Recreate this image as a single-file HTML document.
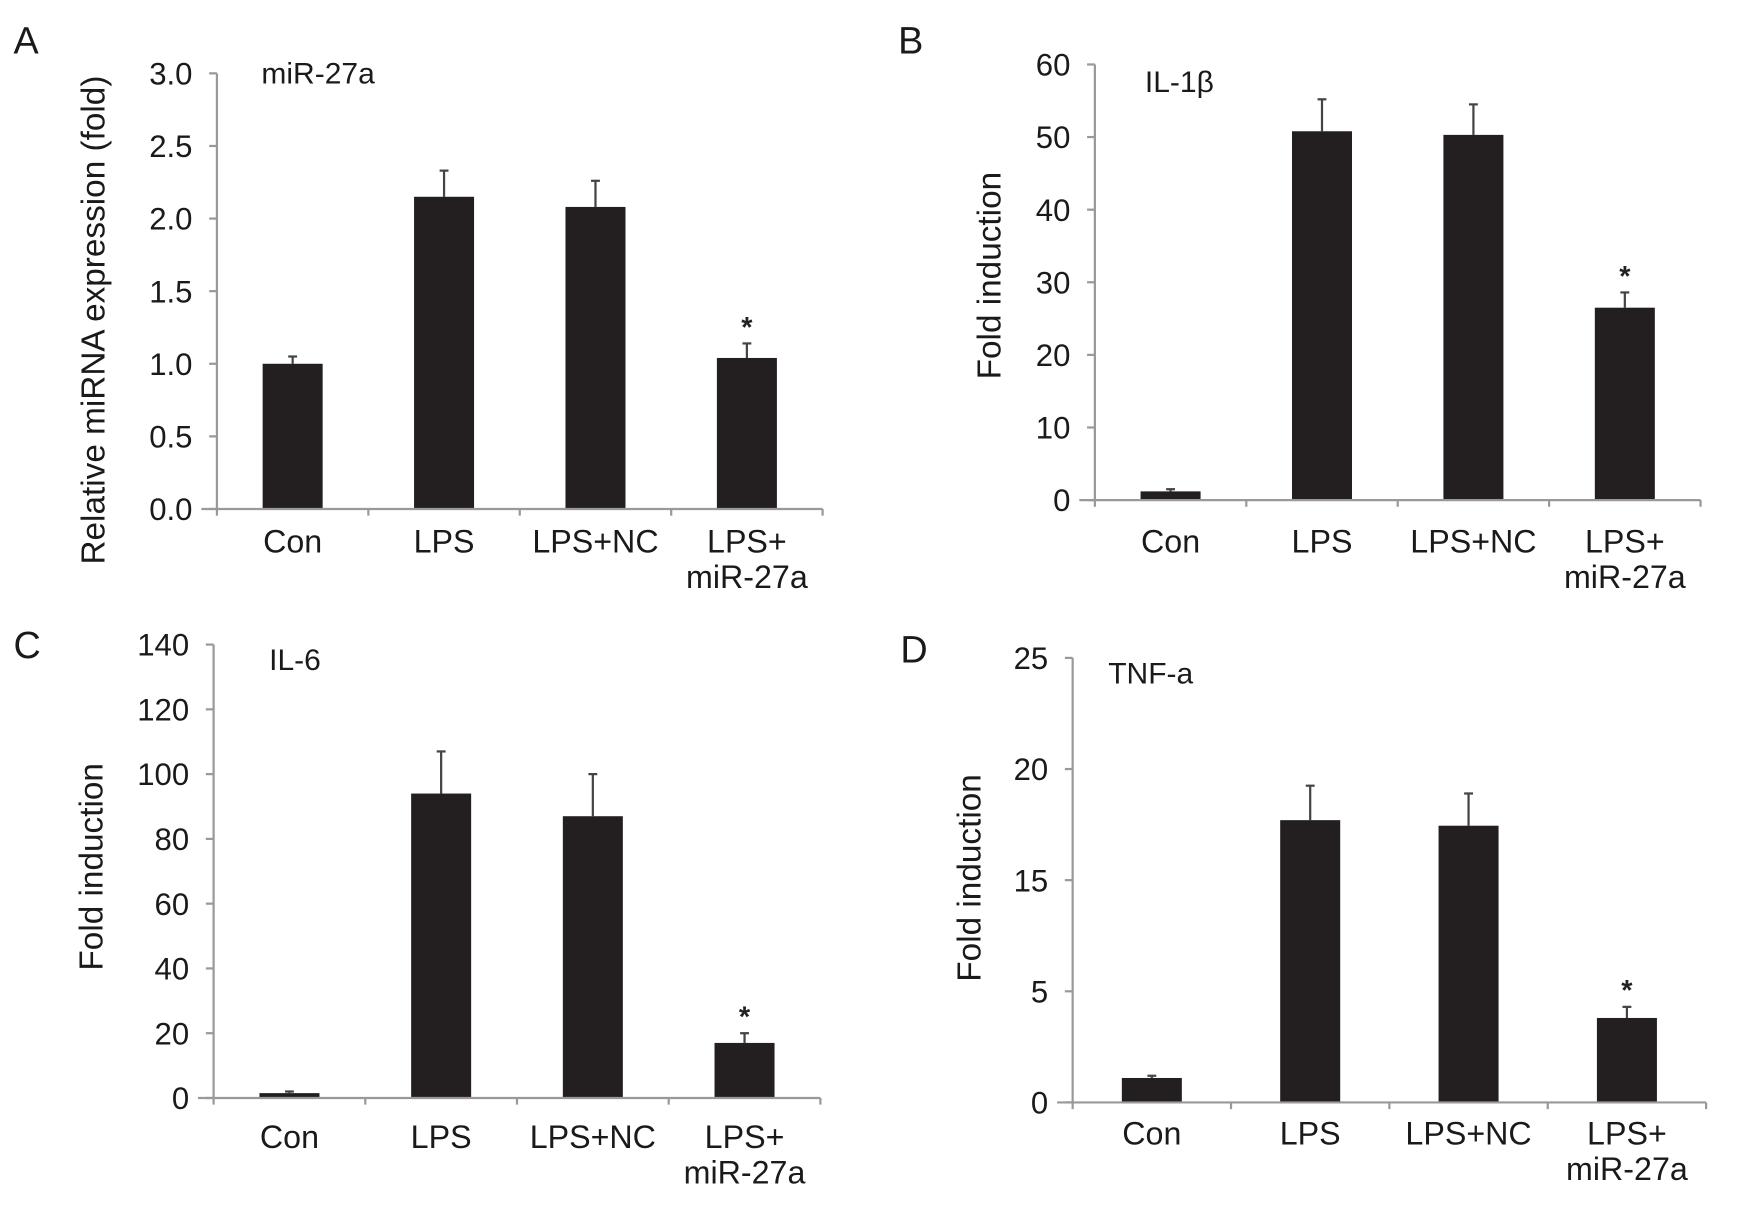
<!DOCTYPE html>
<html><head><meta charset="utf-8"><style>
html,body{margin:0;padding:0;background:#fff;}
svg{display:block;font-family:"Liberation Sans",Arial,sans-serif;}
</style></head><body>
<svg id="fig" width="1743" height="1208" viewBox="0 0 1568 1087" xmlns="http://www.w3.org/2000/svg"></svg>
<script>
const categories = ["Con","LPS","LPS+NC","LPS+\nmiR-27a"];
const valuesA = [1.0, 2.15, 2.08, 1.04];
const errorsA = [1.05, 2.33, 2.26, 1.14];
const ticksA = [0,0.5,1.0,1.5,2.0,2.5,3.0];
const tickLabelsA = ["0.0","0.5","1.0","1.5","2.0","2.5","3.0"];
const valuesB = [1.2, 50.8, 50.3, 26.5];
const errorsB = [1.5, 55.2, 54.5, 28.6];
const ticksB = [0,10,20,30,40,50,60];
const tickLabelsB = ["0","10","20","30","40","50","60"];
const valuesC = [1.5, 94, 87, 17];
const errorsC = [2, 107, 100, 20];
const ticksC = [0,20,40,60,80,100,120,140];
const tickLabelsC = ["0","20","40","60","80","100","120","140"];
const valuesD = [1.1, 17.7, 17.45, 3.8];
const errorsD = [1.2, 19.25, 18.9, 4.3];
const ticksD = [0,5,15,20,25];
const tickLabelsD = ["0","5","15","20","25"];
const starsAt = [false,false,false,true];

const NS="http://www.w3.org/2000/svg";
const svg=document.getElementById('fig');
function mk(tag,attrs,parent){const e=document.createElementNS(NS,tag);for(const k in attrs)e.setAttribute(k,attrs[k]);(parent||svg).appendChild(e);return e;}

function panel(cfg){
  const g=mk('g',{});
  
  
  const n=cfg.ticks.length-1;
  function y(v){
    for(let i=0;i<n;i++){
      const a=cfg.ticks[i],b=cfg.ticks[i+1];
      if(v<=b||i===n-1){const t=i+(v-a)/(b-a);return cfg.y0-(cfg.y0-cfg.y1)*t/n;}
    }
  }
  const bw=cfg.bw;
  const step=(cfg.xEnd-cfg.ax)/4;
  function x(i){return cfg.ax+step*(i+0.5);}
  cfg.values.forEach((v,i)=>{
    const top=y(v), et=y(cfg.errors[i]);
    const eb=mk('line',{x1:x(i),x2:x(i),y1:top,y2:et,stroke:'#444','stroke-width':2},g);
    
    
    const cap=mk('line',{x1:x(i)-4,x2:x(i)+4,y1:et,y2:et,stroke:'#444','stroke-width':2},g);
    
    
    const r=mk('rect',{x:x(i)-bw/2,y:top,width:bw,height:cfg.y0-top,fill:'#231f20'},g);
    
    
    if(starsAt[i]){
      const s=mk('text',{x:x(i),y:et-cfg.starGap,'text-anchor':'middle','font-size':26,'font-weight':'bold',fill:'#222'},g);
      s.textContent='*';
      
      
    }
    const lines=categories[i].split('\n');
    lines.forEach((ln,k)=>{
      const t=mk('text',{x:x(i),y:cfg.labY+k*32,'text-anchor':'middle','font-size':29,fill:'#1a1a1a'},g);
      t.textContent=ln;
      
      
    });
  });
  const ya=mk('line',{x1:cfg.ax,x2:cfg.ax,y1:cfg.y1,y2:cfg.y0,stroke:'#999','stroke-width':2},g);
  
  
  const xa=mk('line',{x1:cfg.ax-14,x2:cfg.xEnd,y1:cfg.y0,y2:cfg.y0,stroke:'#999','stroke-width':2},g);
  
  
  for(let i=0;i<=4;i++){
    const xt=cfg.ax+step*i;
    const tk=mk('line',{x1:xt,x2:xt,y1:cfg.y0,y2:cfg.y0+6,stroke:'#999','stroke-width':2},g);
    
    
  }
  cfg.ticks.forEach((v,i)=>{
    const yy=y(v);
    const tk=mk('line',{x1:cfg.ax-7,x2:cfg.ax,y1:yy,y2:yy,stroke:'#999','stroke-width':2},g);
    
    
    const t=mk('text',{x:cfg.ax-22,y:yy+10,'text-anchor':'end','font-size':28,fill:'#1a1a1a'},g);
    t.textContent=cfg.tickLabels[i];
    
    
  });
  const yt=mk('text',{x:0,y:0,'text-anchor':'middle','font-size':30,fill:'#1a1a1a',transform:`translate(${cfg.ytx},${cfg.yty}) rotate(-90)`},g);
  yt.textContent=cfg.ytitle;
  
  
  const tt=mk('text',{x:cfg.tx,y:cfg.ty,'font-size':27,fill:'#1a1a1a'},g);
  tt.textContent=cfg.title;
  
  
  const pl=mk('text',{x:cfg.px,y:cfg.py,'font-size':34,fill:'#1a1a1a'},g);
  pl.textContent=cfg.letter;
  
  
}

panel({name:'panel-a',values:valuesA,errors:errorsA,ticks:ticksA,tickLabels:tickLabelsA,
  ax:195,xEnd:740,y0:458,y1:66,bw:54,labY:497,starGap:6,
  ytitle:'Relative miRNA expression (fold)',ytx:94,yty:288,title:'miR-27a',tx:235,ty:75,letter:'A',px:12,py:48});
panel({name:'panel-b',values:valuesB,errors:errorsB,ticks:ticksB,tickLabels:tickLabelsB,
  ax:985,xEnd:1530,y0:450,y1:58,bw:54,labY:497,starGap:6,
  ytitle:'Fold induction',ytx:900,yty:248,title:'IL-1β',tx:1030,ty:83,letter:'B',px:808,py:48});
panel({name:'panel-c',values:valuesC,errors:errorsC,ticks:ticksC,tickLabels:tickLabelsC,
  ax:192,xEnd:738,y0:988,y1:580,bw:54,labY:1033,starGap:6,
  ytitle:'Fold induction',ytx:92,yty:780,title:'IL-6',tx:242,ty:603,letter:'C',px:12,py:592});
panel({name:'panel-d',values:valuesD,errors:errorsD,ticks:ticksD,tickLabels:tickLabelsD,
  ax:965,xEnd:1535,y0:992,y1:592,bw:54,labY:1030,starGap:6,
  ytitle:'Fold induction',ytx:882,yty:790,title:'TNF-a',tx:997,ty:615,letter:'D',px:810,py:596});
</script>
</body></html>
